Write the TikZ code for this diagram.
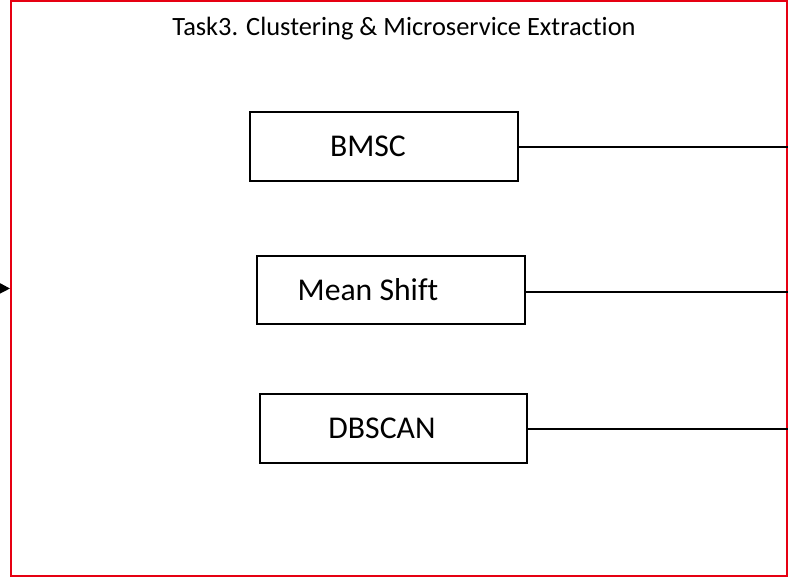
\documentclass[tikz,border=0pt]{standalone}
\usepackage{fontspec}
\setmainfont[Ligatures=NoCommon]{Carlito}
\usetikzlibrary{arrows.meta}
\tikzset{
  algbox/.style={draw=black, line width=2pt, fill=white, minimum height=69pt,
    inner sep=0pt, font=\fontsize{31.7}{36}\selectfont},
  link/.style={draw=black, line width=2pt},
}
\begin{document}
\begin{tikzpicture}[x=1pt, y=-1pt]
  \useasboundingbox (0,0) rectangle (789,578);
  % outer frame of the task
  \node[draw={rgb,255:red,230;green,0;blue,18}, line width=2pt, minimum width=776pt,
        minimum height=575pt, inner sep=0pt] (frame) at (399,288.5) {};
  \node[font=\fontsize{26.4}{30}\selectfont] (title) at (404,29)
    {Task3. Clustering \& Microservice Extraction};
  % incoming arrow
  \coordinate (src) at (-40,288);
  \draw[line width=2pt, -{Triangle[length=11pt, width=11pt]}] (src) -- (frame.west);
  % clustering algorithms
  \node[algbox, minimum width=268pt] (bmsc) at (384,146.5) {\hspace*{-32pt}BMSC};
  \node[algbox, minimum width=268pt, minimum height=68pt] (ms) at (391,290) {\hspace*{-46pt}Mean Shift};
  \node[algbox, minimum width=267pt] (db) at (393.5,428.5) {\hspace*{-23pt}DBSCAN};
  % links to the right side
  \draw[link] (bmsc.east) -- (bmsc.east -| frame.east);
  \draw[link] ([yshift=-2pt]ms.east) -- ([yshift=-2pt]ms.east -| frame.east);
  \draw[link] (db.east) -- (db.east -| frame.east);
\end{tikzpicture}
\end{document}
